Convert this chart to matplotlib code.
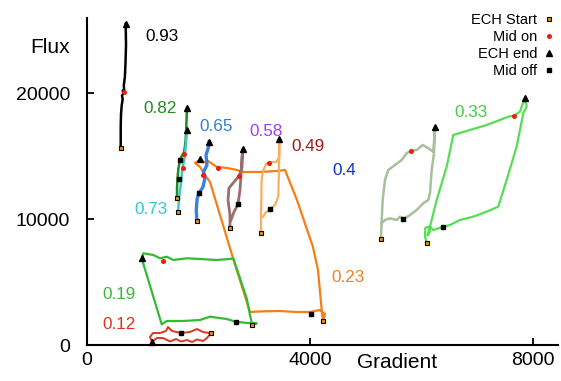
import matplotlib
matplotlib.use("Agg")
import matplotlib.pyplot as plt
from matplotlib.lines import Line2D

plt.rcParams["font.family"] = ["Liberation Sans", "DejaVu Sans"]

# curves: gradient (x) and flux (y), one pair per label
grad_093 = [605, 605, 610, 622, 640, 628, 655, 640, 669, 660, 680, 690, 700, 694]
flux_093 = [15620, 17300, 18300, 19000, 19500, 19800, 20000, 20200, 20060, 20600, 21300, 22300, 23800, 25490]

grad_082 = [1615, 1615, 1625, 1640, 1668, 1700, 1740, 1758, 1770, 1780, 1785, 1794]
flux_082 = [11670, 12500, 13300, 14000, 14690, 15000, 15300, 15800, 16300, 17100, 17800, 18820]

grad_073 = [1633, 1645, 1665, 1686, 1700, 1715, 1740, 1760, 1776, 1794]
flux_073 = [10560, 11300, 12200, 12800, 13500, 14100, 14600, 15300, 16000, 17070]

grad_065 = [1973, 1960, 1975, 2009, 2060, 2081, 2117, 2090, 2153, 2135, 2175, 2189]
flux_065 = [9846, 10700, 11600, 12069, 12400, 12545, 13260, 13736, 14292, 15086, 15642, 16118]

grad_058 = [2565, 2565, 2530, 2547, 2637, 2727, 2781, 2781, 2794, 2781, 2763, 2745, 2709, 2637, 2583]
flux_058 = [9314, 10322, 11513, 12466, 12942, 13419, 14054, 14848, 15562, 14689, 13498, 12307, 11195, 10560, 9925]

grad_049 = [3122, 3122, 3134, 3163, 3224, 3271, 3403, 3450, 3450, 3444, 3432, 3373, 3283, 3193, 3163]
flux_049 = [8917, 10457, 13236, 13895, 14427, 14475, 14554, 14951, 16333, 13895, 11775, 11116, 10775, 10457, 10187]

grad_040 = [5274, 5287, 5305, 5346, 5405, 5526, 5646, 5736, 5813, 5915, 6023, 6123, 6213, 6243,
            6225, 6184, 6153, 6123, 6033, 5915, 5795, 5674, 5615, 5556, 5436, 5346, 5287]
flux_040 = [8416, 9925, 11513, 13101, 13895, 14292, 14689, 15221, 15427, 15483, 15880, 15618, 15348, 17285,
            15221, 13895, 12045, 11513, 11251, 10719, 10322, 9980, 10187, 9925, 10060, 9925, 9663]

grad_033 = [6094, 6064, 6070, 6130, 6153, 6110, 6153, 6274, 6453, 6572, 6871, 7171, 7409, 7558, 7660, 7768,
            7798, 7858, 7888, 7850, 7827, 7708, 7529, 7379, 7171, 6930, 6692, 6512, 6392, 6213, 6153]
flux_033 = [8123, 8600, 9300, 9390, 9000, 8700, 9393, 11513, 14157, 16674, 17071, 17468, 17865, 18127, 18207, 18524,
            18921, 19588, 18921, 18600, 18394, 15745, 13101, 10981, 10584, 10187, 9925, 9528, 9393, 9131, 9393]

grad_023 = [4234, 4216, 4144, 4054, 3767, 3552, 3409, 3104, 2799, 2691, 2512, 2332, 2171, 2100, 2036, 1938,
            2027, 2117, 2207, 2619, 2924, 3200, 3462, 3750, 4001, 4180, 4270, 4234]
flux_023 = [1906, 2541, 5955, 7781, 11513, 13895, 13816, 13736, 13736, 13895, 14054, 14133, 14610, 14500, 14729, 14451,
            14133, 13500, 12942, 6908, 2620, 2680, 2700, 2620, 2620, 2780, 2461, 1906]

grad_019 = [2966, 2924, 2865, 2745, 2625, 2565, 2327, 2027, 1789, 1548, 1430, 1310, 1189, 1010, 981,
            1340, 1430, 1728, 2027, 2207, 2506, 2668, 2870, 3044, 2966]
flux_019 = [1588, 2382, 3708, 5296, 6884, 6828, 6749, 6828, 6884, 6749, 7011, 6884, 7146, 7281, 6884,
            1644, 1906, 1906, 1985, 2247, 2064, 1850, 1750, 1720, 1588]

grad_012 = [2219, 2081, 1973, 1848, 1686, 1525, 1453, 1417, 1310, 1184, 1130, 1166, 1256, 1363, 1489,
            1597, 1686, 1794, 1884, 1973, 2081, 2153, 2219]
flux_012 = [929, 1032, 1270, 1032, 953, 1112, 1429, 1112, 953, 953, 635, 262, 556, 556, 278,
            476, 278, 397, 238, 437, 318, 556, 929]

# event points (gradient, flux)
ech_start = [(605, 15620), (1615, 11670), (1633, 10560), (1973, 9846), (2565, 9314), (3122, 8917),
             (5274, 8416), (6094, 8123), (4229, 1929), (2966, 1588), (2219, 929)]
mid_on = [(669, 20060), (1740, 15140), (1728, 14030), (2081, 13498), (2732, 13419), (3271, 14475),
          (5813, 15427), (7660, 18207), (2351, 14030), (1358, 6670)]
ech_end = [(694, 25490), (1794, 18820), (1794, 17070), (2189, 16118), (2794, 15562), (3450, 16333),
           (6243, 17285), (7858, 19588), (2036, 14729), (981, 6884), (1166, 262)]
mid_off = [(1668, 14689), (1650, 13180), (2009, 12093), (2714, 11195), (3283, 10775),
           (5674, 9980), (6392, 9393), (4013, 2438), (2668, 1850), (1686, 953)]

# curve labels: text, gradient, flux, colour
labels = ["0.93", "0.82", "0.65", "0.58", "0.49", "0.4", "0.33", "0.73", "0.23", "0.19", "0.12"]
label_x = [1346, 1310, 2314, 3211, 3965, 4611, 6889, 1148, 4682, 574, 574]
label_y = [24455, 18738, 17309, 16912, 15721, 13816, 18421, 10719, 5320, 3970, 1588]
label_col = ["black", "#1f8a1f", "#2f7fdc", "#a040f0", "#a01818", "#1030d0", "#44cc44",
             "#30c8d0", "#f08020", "#33bb33", "#e03020"]

curves = [
    (grad_023, flux_023, "#f57f17", 1.6),
    (grad_019, flux_019, "#33bb33", 1.6),
    (grad_012, flux_012, "#e03520", 1.4),
    (grad_093, flux_093, "black", 1.8),
    (grad_082, flux_082, "#1e8c1e", 1.8),
    (grad_073, flux_073, "#3cc8c8", 1.8),
    (grad_065, flux_065, "#3a80e0", 2.4),
    (grad_058, flux_058, "#9a6e6a", 2.0),
    (grad_049, flux_049, "#f8b060", 1.6),
    (grad_040, flux_040, "#a8bf9c", 1.8),
    (grad_033, flux_033, "#55dd55", 1.6),
]

fig = plt.figure(figsize=(5.61, 3.81), dpi=100)
ax = fig.add_axes([87 / 561, 36 / 381, 471 / 561, 327 / 381])

for gx, fy, col, lw in curves:
    ax.plot(gx, fy, color=col, lw=lw, solid_joinstyle="round", clip_on=False)

sq_fill = "#e8900c"
ax.plot([p[0] for p in ech_start], [p[1] for p in ech_start], "s", ms=3.4,
        mfc=sq_fill, mec="black", mew=0.8, ls="none", clip_on=False, zorder=5)
ax.plot([p[0] for p in mid_on], [p[1] for p in mid_on], "o", ms=2.6,
        color="#e82010", ls="none", clip_on=False, zorder=5)
ax.plot([p[0] for p in ech_end], [p[1] for p in ech_end], "^", ms=4,
        color="black", ls="none", clip_on=False, zorder=5)
ax.plot([p[0] for p in mid_off], [p[1] for p in mid_off], "s", ms=3,
        color="black", ls="none", clip_on=False, zorder=5)

for t, x, y, c in zip(labels, label_x, label_y, label_col):
    ax.text(x, y, t, color=c, fontsize=12.3, ha="center", va="center")

ax.set_xlim(0, 8450)
ax.set_ylim(0, 25960)
ax.set_xticks([0, 4000, 8000])
ax.set_yticks([0, 10000, 20000])
ax.tick_params(direction="in", length=5, width=1.3, labelsize=14)
ax.tick_params(axis="x", pad=5)
ax.tick_params(axis="y", pad=12)
ax.spines["top"].set_visible(False)
ax.spines["right"].set_visible(False)
ax.spines["left"].set_linewidth(1.5)
ax.spines["bottom"].set_linewidth(1.5)

ax.text(0.658, -0.055, "Gradient", transform=ax.transAxes, fontsize=15,
        ha="center", va="center")
ax.text(-0.079, 0.911, "Flux", transform=ax.transAxes, fontsize=15,
        ha="center", va="center")

# legend
handles = [
    Line2D([], [], marker="s", ms=3.4, mfc=sq_fill, mec="black", mew=0.8, ls="none"),
    Line2D([], [], marker="o", ms=2.6, color="#e82010", ls="none"),
    Line2D([], [], marker="^", ms=4, color="black", ls="none"),
    Line2D([], [], marker="s", ms=3, color="black", ls="none"),
]
ax.legend(handles, ["ECH Start", "Mid on", "ECH end", "Mid off"], loc="upper right",
          bbox_to_anchor=(1.012, 1.045), frameon=False, markerfirst=False, fontsize=10.5,
          handlelength=0.6, handletextpad=0.5, labelspacing=0.2, borderpad=0.2)

fig.savefig("out.png", dpi=100)
